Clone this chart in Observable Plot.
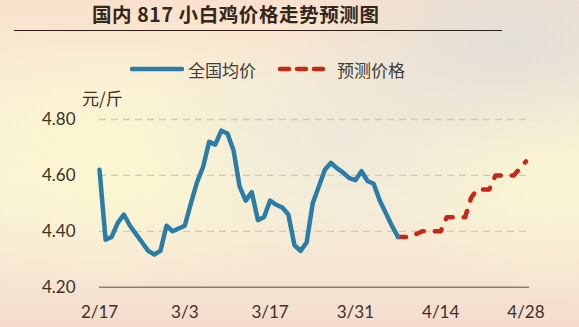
<!DOCTYPE html>
<html>
<head>
<meta charset="utf-8">
<script src="https://cdn.jsdelivr.net/npm/d3@7"></script>
<script src="https://cdn.jsdelivr.net/npm/@observablehq/plot@0.6"></script>
<style>
  html, body { margin: 0; padding: 0; }
  #card {
    position: relative;
    width: 579px;
    height: 327px;
    overflow: hidden;
    background:
      radial-gradient(ellipse 220px 120px at 88% 12%, rgba(226,222,216,0.95), rgba(226,222,216,0) 100%),
      radial-gradient(ellipse 200px 110px at 58% 42%, rgba(236,232,218,0.9), rgba(236,232,218,0) 100%),
      radial-gradient(ellipse 260px 140px at 18% 48%, rgba(252,247,208,1), rgba(252,247,208,0) 100%),
      radial-gradient(ellipse 160px 120px at 95% 55%, rgba(250,245,210,0.9), rgba(250,245,210,0) 100%),
      linear-gradient(180deg, #f9e1cd 0%, #f8ecd6 28%, #f7f1d8 55%, #f6e6d4 82%, #f5dccd 100%);
    font-family: "Noto Sans CJK SC", "Noto Sans", sans-serif;
    color: #3a3227;
  }
  #title {
    position: absolute;
    left: 0; width: 579px; top: 1px;
    padding-left: 92px;
    box-sizing: border-box;
    font-size: 19.5px;
    font-weight: 700;
    letter-spacing: 0.6px;
    color: #33261a;
    line-height: 26px;
    white-space: nowrap;
  }
  #rule {
    position: absolute;
    left: 14px; width: 488px; top: 30px;
    height: 0; border-top: 1.3px solid #2a1f16;
  }
  .legend {
    position: absolute;
    top: 57px;
    height: 24px;
    display: flex;
    align-items: center;
    font-size: 17px;
    color: #3d3d3d;
    white-space: nowrap;
  }
  .legend svg { margin-right: 4px; }
  #unit {
    position: absolute;
    left: 82px; top: 85px;
    font-size: 17px;
    color: #3a3227;
    white-space: nowrap;
  }
  #chart { position: absolute; left: 0; top: 0; }
</style>
</head>
<body>
<div id="card">
  <div id="chart"></div>
  <div id="title">国内 817 小白鸡价格走势预测图</div>
  <div id="rule"></div>
  <div class="legend" style="left:130px">
    <svg width="54" height="10"><line x1="2" y1="5" x2="52" y2="5" stroke="#2b7ca6" stroke-width="4.5" stroke-linecap="round"/></svg>
    <span>全国均价</span>
  </div>
  <div class="legend" style="left:277px">
    <svg width="56" height="10"><line x1="3" y1="5" x2="49" y2="5" stroke="#c8281a" stroke-width="4.5" stroke-linecap="round" stroke-dasharray="9,8"/></svg>
    <span>预测价格</span>
  </div>
  <div id="unit">元/斤</div>
</div>
<script>
// National average price of 817 broiler chicks, daily from Feb 17 (yuan per jin)
const startDate = "2019-02-17";
const actualPrice = [
  4.62, 4.37, 4.38, 4.43, 4.46, 4.42, 4.39, 4.36, 4.33, 4.317,
  4.33, 4.42, 4.40, 4.41, 4.42, 4.50, 4.575, 4.63, 4.72, 4.71,
  4.76, 4.75, 4.69, 4.56, 4.51, 4.54, 4.44, 4.45, 4.51, 4.495,
  4.485, 4.46, 4.35, 4.33, 4.36, 4.50, 4.56, 4.62, 4.645, 4.625,
  4.61, 4.59, 4.583, 4.615, 4.58, 4.57, 4.51, 4.465, 4.42, 4.38
];
// Forecast, starting on the last observed day (Apr 7)
const forecastStart = 49;
const forecastPrice = [
  4.38, 4.38, 4.38, 4.39, 4.40, 4.40, 4.40, 4.40, 4.45, 4.45,
  4.45, 4.45, 4.52, 4.55, 4.55, 4.55, 4.60, 4.60, 4.60, 4.60,
  4.625, 4.65
];
const xTickLabels = ["2/17", "3/3", "3/17", "3/31", "4/14", "4/28"];
const yTicks = [4.2, 4.4, 4.6, 4.8];

const day0 = new Date(startDate + "T00:00:00Z");
const dayAt = (i) => d3.utcDay.offset(day0, i);
const parseTick = (s) => {
  const [m, d] = s.split("/").map(Number);
  return new Date(Date.UTC(day0.getUTCFullYear(), m - 1, d));
};

const actual = actualPrice.map((v, i) => ({date: dayAt(i), price: v}));
const forecast = forecastPrice.map((v, i) => ({date: dayAt(forecastStart + i), price: v}));
const xTicks = xTickLabels.map(parseTick);

const chart = Plot.plot({
  width: 579,
  height: 327,
  marginTop: 119,
  marginBottom: 40.3,
  marginLeft: 99,
  marginRight: 50,
  style: {
    background: "transparent",
    fontFamily: "Lato, 'Noto Sans', sans-serif",
    fontSize: "17px",
    color: "#3a3227",
    overflow: "visible"
  },
  x: {
    type: "utc",
    domain: [day0, d3.utcHour.offset(dayAt(70), 14)],
    ticks: xTicks,
    tickFormat: d3.utcFormat("%-m/%-d"),
    tickSize: 0,
    tickPadding: 19,
    label: null
  },
  y: {
    domain: [4.2, 4.8],
    ticks: yTicks,
    tickFormat: (d) => d.toFixed(2),
    tickSize: 0,
    tickPadding: 24,
    label: null
  },
  marks: [
    Plot.gridY(yTicks.slice(1), {
      stroke: "#d2cbb8",
      strokeOpacity: 1,
      strokeWidth: 1.3,
      strokeDasharray: "7,5"
    }),
    Plot.ruleY([4.2], {stroke: "#8a7f6e", strokeWidth: 1.6}),
    Plot.axisX({ticks: xTicks, tickFormat: d3.utcFormat("%-m/%-d"), tickSize: 0, tickPadding: 19, label: null, fill: "#3a3227"}),
    Plot.axisY({ticks: yTicks, tickFormat: (d) => d.toFixed(2), tickSize: 0, tickPadding: 24, label: null, fill: "#3a3227"}),
    Plot.line(forecast, {
      x: "date", y: "price",
      stroke: "#c8281a",
      strokeWidth: 4.5,
      strokeLinecap: "round",
      strokeLinejoin: "round",
      strokeDasharray: "8,11"
    }),
    Plot.line(actual, {
      x: "date", y: "price",
      stroke: "#2b7ca6",
      strokeWidth: 4.5,
      strokeLinejoin: "round"
    })
  ]
});
document.getElementById("chart").appendChild(chart);
</script>
</body>
</html>
